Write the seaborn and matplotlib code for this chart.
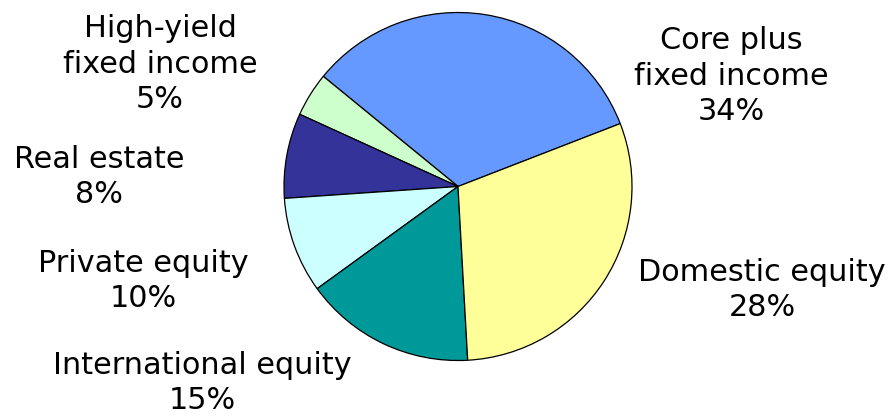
import matplotlib
matplotlib.use("Agg")
import matplotlib.pyplot as plt
import seaborn as sns

# Data (counter-clockwise from the Core plus slice)
categories = ["Core plus\nfixed income", "High-yield\nfixed income", "Real estate",
              "Private equity", "International equity", "Domestic equity"]
slice_values = [33.2, 4.1, 7.9, 8.9, 15.9, 30.0]
pct_labels = ["34%", "5%", "8%", "10%", "15%", "28%"]
slice_colors = ["#6699FF", "#CCFFCC", "#333399", "#CCFFFF", "#009999", "#FFFF99"]

# label block centers in pixel coords (x, y from top)
label_pos = [(731, 76), (160, 64), (99, 177), (143, 281), (202, 383), (762, 290)]

sns.set_style("white")
plt.rcParams["font.family"] = ["DejaVu Sans"]

W, H = 894, 417
fig = plt.figure(figsize=(W / 100, H / 100), dpi=100)
ax = fig.add_axes([0, 0, 1, 1])
palette = sns.color_palette(slice_colors)

ax.pie(slice_values, colors=palette, startangle=21.2, counterclock=True,
       center=(458, H - 186.5), radius=174, frame=True,
       wedgeprops=dict(edgecolor="black", linewidth=0.9))
ax.set_xlim(0, W)
ax.set_ylim(0, H)
ax.set_aspect("equal")
ax.axis("off")

for cat, pct, (x, y) in zip(categories, pct_labels, label_pos):
    ax.text(x, H - y, f"{cat}\n{pct}", ha="center", va="center", multialignment="center",
            fontsize=21.8, color="black", linespacing=1.3)

fig.savefig("out.png", dpi=100)
